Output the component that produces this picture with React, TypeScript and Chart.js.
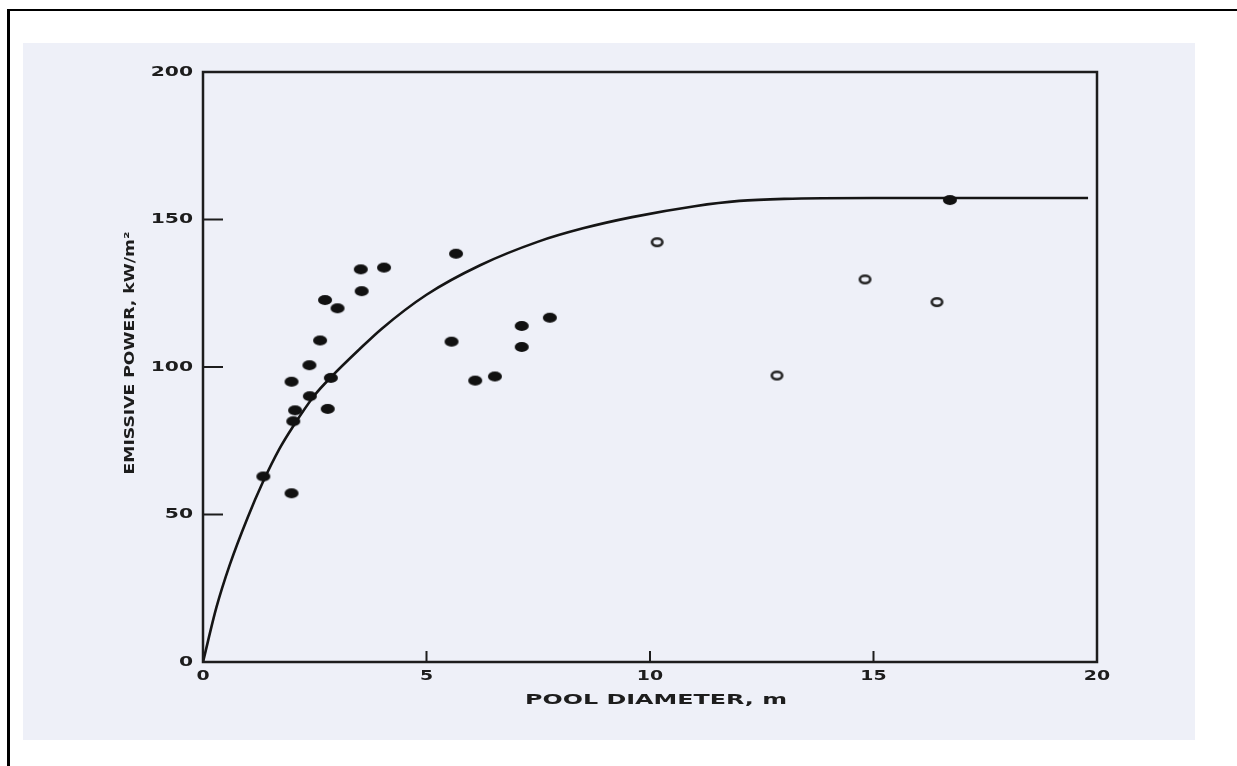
import React, { useEffect, useRef } from "react";
import { Chart, registerables } from "chart.js";

Chart.register(...registerables);

// Axis ticks
const xTickValues = [0, 5, 10, 15, 20];
const xTickLabels = ["0", "5", "10", "15", "20"];
const yTickValues = [0, 50, 100, 150, 200];
const yTickLabels = ["0", "50", "100", "150", "200"];

const xTitle = "POOL DIAMETER, m";
const yTitle = "EMISSIVE POWER, kW/m²";

// Fitted emissive-power curve (pool diameter m, kW/m²)
const curveD = [0, 0.3, 0.6, 1.0, 1.34, 1.7, 2.0, 2.5, 2.86, 3.5, 4.0, 5.0, 6.2, 7.5, 8.5, 9.6, 11.0, 12.0, 13.0, 15.0, 17.0, 19.8];
const curveE = [0, 18.5, 33, 49, 61, 72, 79.5, 90.5, 96.5, 106, 113, 124.5, 134.5, 142.5, 147, 150.8, 154.5, 156.3, 157, 157.3, 157.3, 157.3];

// Measured values, filled symbols
const filledD = [1.35, 1.98, 2.02, 2.06, 1.98, 2.39, 2.38, 2.79, 2.86, 2.62, 2.73, 3.01, 3.55, 3.53, 4.05, 5.66, 5.56, 6.09, 6.53, 7.13, 7.13, 7.76, 16.71];
const filledE = [62.9, 57.2, 81.6, 85.3, 95.0, 90.1, 100.6, 85.8, 96.3, 109.0, 122.7, 119.9, 125.7, 133.1, 133.7, 138.4, 108.6, 95.4, 96.8, 113.9, 106.8, 116.7, 156.6];

// Measured values, open symbols
const openD = [10.16, 12.84, 14.81, 16.42];
const openE = [142.3, 97.1, 129.7, 122.0];

const INK = "#1d1d1d";
const FONT = "bold 14px 'DejaVu Sans'";

function ellipseMark(w: number, h: number, filled: boolean): HTMLCanvasElement {
  const c = document.createElement("canvas");
  c.width = w + 4;
  c.height = h + 4;
  const g = c.getContext("2d")!;
  g.beginPath();
  if (filled) {
    g.ellipse(c.width / 2, c.height / 2, w / 2, h / 2, 0, 0, Math.PI * 2);
    g.fillStyle = "#111";
    g.fill();
  } else {
    g.ellipse(c.width / 2, c.height / 2, w / 2 - 1.3, h / 2 - 1.3, 0, 0, Math.PI * 2);
    g.lineWidth = 2.6;
    g.strokeStyle = "#222";
    g.stroke();
  }
  return c;
}

// Draws text stretched horizontally (wide lettering of the printed figure)
function wideText(
  ctx: CanvasRenderingContext2D,
  text: string,
  x: number,
  y: number,
  opts: { sx?: number; width?: number; align?: CanvasTextAlign; rotate?: number }
) {
  ctx.save();
  ctx.font = FONT;
  ctx.fillStyle = INK;
  ctx.textBaseline = "middle";
  const w = ctx.measureText(text).width;
  const sx = opts.width ? opts.width / w : opts.sx ?? 1;
  ctx.translate(x, y);
  if (opts.rotate) ctx.rotate(opts.rotate);
  ctx.scale(sx, 1);
  ctx.textAlign = opts.align ?? "center";
  ctx.fillText(text, 0, 0);
  ctx.restore();
}

const framePlugin = {
  id: "frame",
  afterDraw(chart: any) {
    const { ctx, chartArea: a, scales } = chart;
    const xs = scales.x;
    const ys = scales.y;
    ctx.save();
    ctx.strokeStyle = INK;
    ctx.lineWidth = 2.5;
    ctx.strokeRect(a.left, a.top, a.right - a.left, a.bottom - a.top);

    // inward tick marks
    ctx.lineWidth = 2;
    ctx.beginPath();
    yTickValues.forEach((v) => {
      if (v === yTickValues[0] || v === yTickValues[yTickValues.length - 1]) return;
      const py = ys.getPixelForValue(v);
      ctx.moveTo(a.left, py);
      ctx.lineTo(a.left + 20, py);
    });
    xTickValues.forEach((v) => {
      if (v === xTickValues[0] || v === xTickValues[xTickValues.length - 1]) return;
      const px = xs.getPixelForValue(v);
      ctx.moveTo(px, a.bottom);
      ctx.lineTo(px, a.bottom - 11);
    });
    ctx.stroke();
    ctx.restore();

    yTickValues.forEach((v, i) => {
      wideText(ctx, yTickLabels[i], a.left - 10, ys.getPixelForValue(v), { sx: 1.45, align: "right" });
    });
    xTickValues.forEach((v, i) => {
      wideText(ctx, xTickLabels[i], xs.getPixelForValue(v), a.bottom + 14, { sx: 1.35 });
    });

    wideText(ctx, xTitle, (a.left + a.right) / 2 + 6, a.bottom + 38, { width: 262 });
    wideText(ctx, yTitle, a.left - 73, (a.top + a.bottom) / 2 - 14, { width: 243, rotate: -Math.PI / 2 });
  },
};

export default function App() {
  const ref = useRef<HTMLCanvasElement | null>(null);

  useEffect(() => {
    if (!ref.current) return;
    const dot = ellipseMark(14, 10, true);
    const ring = ellipseMark(13, 10, false);

    const chart = new Chart(ref.current, {
      type: "scatter",
      data: {
        datasets: [
          {
            label: "curve",
            data: curveD.map((d, i) => ({ x: d, y: curveE[i] })),
            showLine: true,
            borderColor: "#151515",
            borderWidth: 2.6,
            pointRadius: 0,
            cubicInterpolationMode: "monotone",
            order: 2,
          },
          {
            label: "filled",
            data: filledD.map((d, i) => ({ x: d, y: filledE[i] })),
            pointStyle: dot,
            pointRadius: 6,
            showLine: false,
            order: 1,
          },
          {
            label: "open",
            data: openD.map((d, i) => ({ x: d, y: openE[i] })),
            pointStyle: ring,
            pointRadius: 6,
            showLine: false,
            order: 1,
          },
        ],
      },
      options: {
        animation: false,
        responsive: true,
        maintainAspectRatio: false,
        layout: { padding: { left: 203, top: 72, right: 140, bottom: 104 } },
        plugins: { legend: { display: false }, tooltip: { enabled: false } },
        scales: {
          x: {
            type: "linear",
            min: 0,
            max: 20,
            grid: { display: false, drawTicks: false },
            border: { display: false },
            ticks: { display: false },
            afterFit: (s: any) => {
              s.height = 0;
            },
          },
          y: {
            type: "linear",
            min: 0,
            max: 200,
            grid: { display: false, drawTicks: false },
            border: { display: false },
            ticks: { display: false },
            afterFit: (s: any) => {
              s.width = 0;
            },
          },
        },
      },
      plugins: [framePlugin],
    });
    return () => chart.destroy();
  }, []);

  return (
    <div style={{ position: "absolute", left: 0, top: 0, width: 1237, height: 766, background: "#fff", overflow: "hidden" }}>
      <div
        style={{
          position: "absolute",
          left: 7,
          top: 9,
          width: 1300,
          height: 800,
          borderLeft: "3px solid #000",
          borderTop: "2px solid #000",
        }}
      />
      <div style={{ position: "absolute", left: 23, top: 43, width: 1172, height: 697, background: "#eef0f8" }} />
      <div style={{ position: "absolute", left: 0, top: 0, width: 1237, height: 766 }}>
        <canvas ref={ref} />
      </div>
    </div>
  );
}
